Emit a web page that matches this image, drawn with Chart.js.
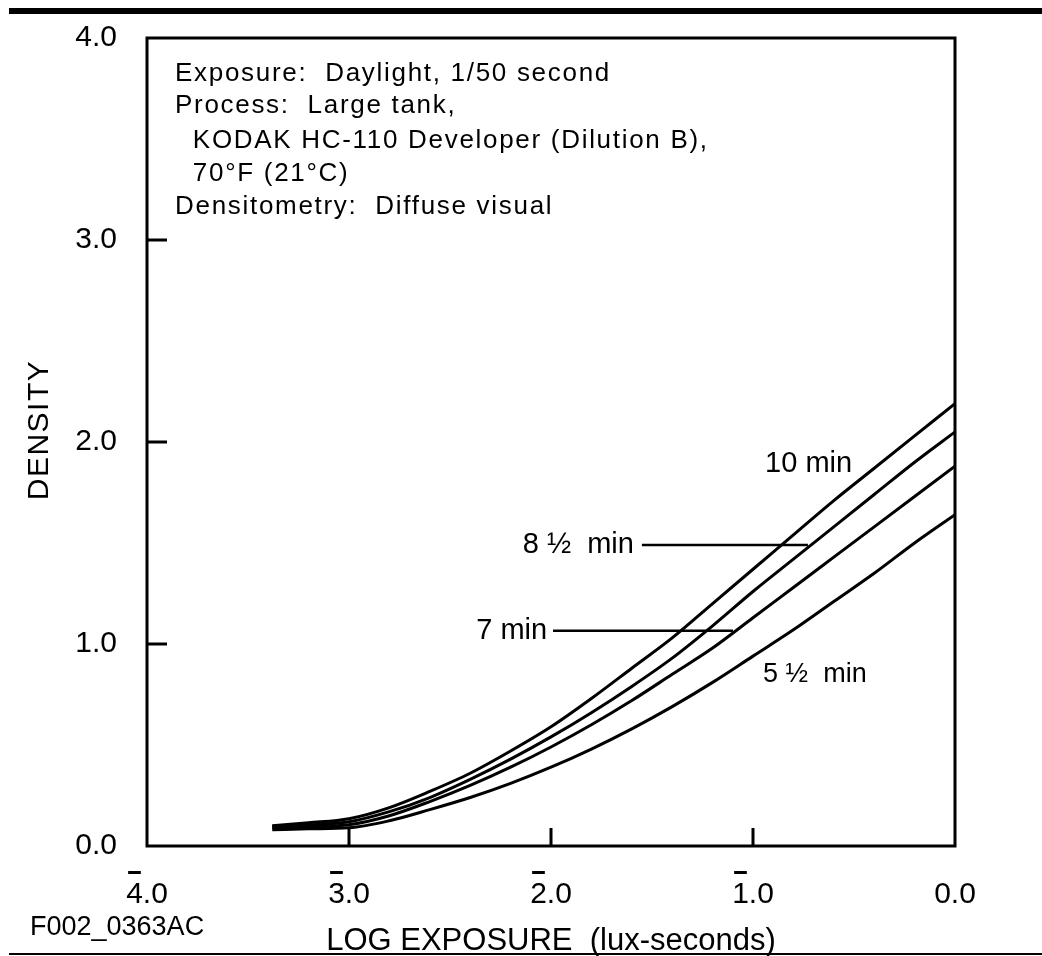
<!DOCTYPE html>
<html lang="en">
<head>
<meta charset="UTF-8">
<title>HC-110 characteristic curves</title>
<script src="https://cdn.jsdelivr.net/npm/chart.js"></script>
<style>
  body { margin: 0; background: #fff; }
  #wrap { width: 1042px; height: 956px; }
</style>
</head>
<body>
<div id="wrap"><canvas id="curves"></canvas></div>
<script>
// log exposure values the curves were read at
const logE = [-3.38, -3.2, -3.0, -2.8, -2.6, -2.4, -2.2, -2.0, -1.8, -1.6, -1.4, -1.2, -1.0, -0.8, -0.6, -0.4, -0.2, 0];

// density for each development time
const d10  = [0.10, 0.115, 0.135, 0.19, 0.27, 0.36, 0.47, 0.59, 0.73, 0.88, 1.03, 1.20, 1.37, 1.54, 1.71, 1.87, 2.03, 2.19];
const d85  = [0.095, 0.105, 0.12, 0.17, 0.24, 0.33, 0.43, 0.54, 0.66, 0.79, 0.93, 1.09, 1.26, 1.42, 1.58, 1.74, 1.90, 2.05];
const d7   = [0.09, 0.095, 0.105, 0.15, 0.22, 0.30, 0.39, 0.49, 0.60, 0.72, 0.85, 0.98, 1.13, 1.28, 1.43, 1.58, 1.73, 1.88];
const d55  = [0.08, 0.085, 0.09, 0.125, 0.18, 0.24, 0.31, 0.39, 0.48, 0.58, 0.69, 0.81, 0.94, 1.07, 1.21, 1.35, 1.50, 1.64];

const seriesNames = ['10 min', '8½ min', '7 min', '5½ min'];

const xTicks = [-4, -3, -2, -1, 0];
const xTickLabels = ['4.0', '3.0', '2.0', '1.0', '0.0'];
const xBarred = [true, true, true, true, false];   // bar over the characteristic
const yTicks = [0, 1, 2, 3, 4];
const yTickLabels = ['0.0', '1.0', '2.0', '3.0', '4.0'];

const notes = [
  'Exposure:  Daylight, 1/50 second',
  'Process:  Large tank,',
  '  KODAK HC-110 Developer (Dilution B),',
  '  70°F (21°C)',
  'Densitometry:  Diffuse visual'
];

const FONT = '"Liberation Sans", Arial, sans-serif';

function pts(ys) {
  return logE.map((x, i) => ({ x: x, y: ys[i] }));
}

// curve labels, placed in data units
const curveLabels = [
  { text: '10 min',  x: -0.94, y: 1.85, size: 29 },
  { text: '8 ½  min', x: -2.14, y: 1.49, size: 29, mid: true, lineFrom: -1.55, lineTo: -0.728 },
  { text: '7 min',   x: -2.37, y: 1.065, size: 29, mid: true, lineFrom: -1.99, lineTo: -1.099 },
  { text: '5 ½  min', x: -0.95, y: 0.81, size: 27 }
];

const extras = {
  id: 'extras',
  afterDatasetsDraw(chart) {
    const { ctx, chartArea: a, scales } = chart;
    const x = scales.x, y = scales.y;
    ctx.save();
    ctx.fillStyle = '#000';
    ctx.strokeStyle = '#000';

    // heavy rule on top, thin rule at the bottom
    ctx.fillRect(9, 8, chart.width - 9, 6);
    ctx.fillRect(9, 953, chart.width - 9, 2);

    // frame
    ctx.lineWidth = 3;
    ctx.strokeRect(a.left, a.top, a.right - a.left, a.bottom - a.top);

    // inward tick marks
    ctx.beginPath();
    yTicks.slice(1, -1).forEach(v => {
      const py = y.getPixelForValue(v);
      ctx.moveTo(a.left, py); ctx.lineTo(a.left + 20, py);
    });
    xTicks.slice(1, -1).forEach(v => {
      const px = x.getPixelForValue(v);
      ctx.moveTo(px, a.bottom); ctx.lineTo(px, a.bottom - 18);
    });
    ctx.stroke();

    // bars over the negative characteristics
    ctx.font = '30px ' + FONT;
    xTicks.forEach((v, i) => {
      if (!xBarred[i]) return;
      const w = ctx.measureText(xTickLabels[i]).width;
      const d = ctx.measureText(xTickLabels[i][0]).width;
      const left = x.getPixelForValue(v) - w / 2;
      ctx.fillRect(left + 2, a.bottom + 25, d - 4, 3);
    });

    // y axis title
    ctx.save();
    ctx.translate(40, (a.top + a.bottom) / 2 - 12);
    ctx.rotate(-Math.PI / 2);
    ctx.font = '30px ' + FONT;
    ctx.letterSpacing = '1.5px';
    ctx.textAlign = 'center';
    ctx.textBaseline = 'middle';
    ctx.fillText('DENSITY', 0, 0);
    ctx.restore();

    // notes block
    ctx.font = '26px ' + FONT;
    ctx.letterSpacing = '1.7px';
    ctx.textAlign = 'left';
    ctx.textBaseline = 'alphabetic';
    const base = [43, 75, 110, 143, 176];
    notes.forEach((t, i) => {
      ctx.fillText(t, a.left + 28, a.top + base[i]);
    });

    // figure code
    ctx.letterSpacing = '0px';
    ctx.font = '27px ' + FONT;
    ctx.fillText('F002_0363AC', 30, 935);

    // curve labels and leader lines
    curveLabels.forEach(l => {
      ctx.font = l.size + 'px ' + FONT;
      ctx.textBaseline = l.mid ? 'middle' : 'alphabetic';
      ctx.fillText(l.text, x.getPixelForValue(l.x), y.getPixelForValue(l.y));
      if (l.lineFrom !== undefined) {
        const py = y.getPixelForValue(l.y);
        ctx.lineWidth = 2.5;
        ctx.beginPath();
        ctx.moveTo(x.getPixelForValue(l.lineFrom), py);
        ctx.lineTo(x.getPixelForValue(l.lineTo), py);
        ctx.stroke();
      }
    });
    ctx.restore();
  }
};

const ctx = document.getElementById('curves');

new Chart(ctx, {
  type: 'line',
  data: {
    datasets: [d10, d85, d7, d55].map((d, i) => ({
      label: seriesNames[i],
      data: pts(d),
      borderColor: '#000',
      borderWidth: 3,
      pointRadius: 0,
      cubicInterpolationMode: 'monotone',
      fill: false
    }))
  },
  options: {
    responsive: true,
    maintainAspectRatio: false,
    animation: false,
    layout: { padding: { left: 0, top: 38, right: 87, bottom: 0 } },
    plugins: { legend: { display: false }, tooltip: { enabled: false } },
    scales: {
      x: {
        type: 'linear',
        min: -4,
        max: 0,
        afterBuildTicks: s => { s.ticks = xTicks.map(v => ({ value: v })); },
        afterFit: s => { s.height = 110; s.paddingLeft = 0; s.paddingRight = 0; },
        grid: { display: false },
        border: { display: false },
        ticks: {
          color: '#000',
          padding: 23,
          maxRotation: 0,
          autoSkip: false,
          font: { family: FONT, size: 30 },
          callback: v => xTickLabels[xTicks.indexOf(v)]
        },
        title: {
          display: true,
          text: 'LOG EXPOSURE  (lux-seconds)',
          color: '#000',
          font: { family: FONT, size: 31, lineHeight: 0.95 },
          padding: { top: 0, bottom: 0 }
        }
      },
      y: {
        type: 'linear',
        min: 0,
        max: 4,
        afterBuildTicks: s => { s.ticks = yTicks.map(v => ({ value: v })); },
        afterFit: s => { s.width = 147; s.paddingTop = 0; s.paddingBottom = 0; },
        grid: { display: false },
        border: { display: false },
        ticks: {
          color: '#000',
          padding: 22,
          font: { family: FONT, size: 30 },
          callback: v => yTickLabels[yTicks.indexOf(v)]
        }
      }
    }
  },
  plugins: [extras]
});
</script>
</body>
</html>
